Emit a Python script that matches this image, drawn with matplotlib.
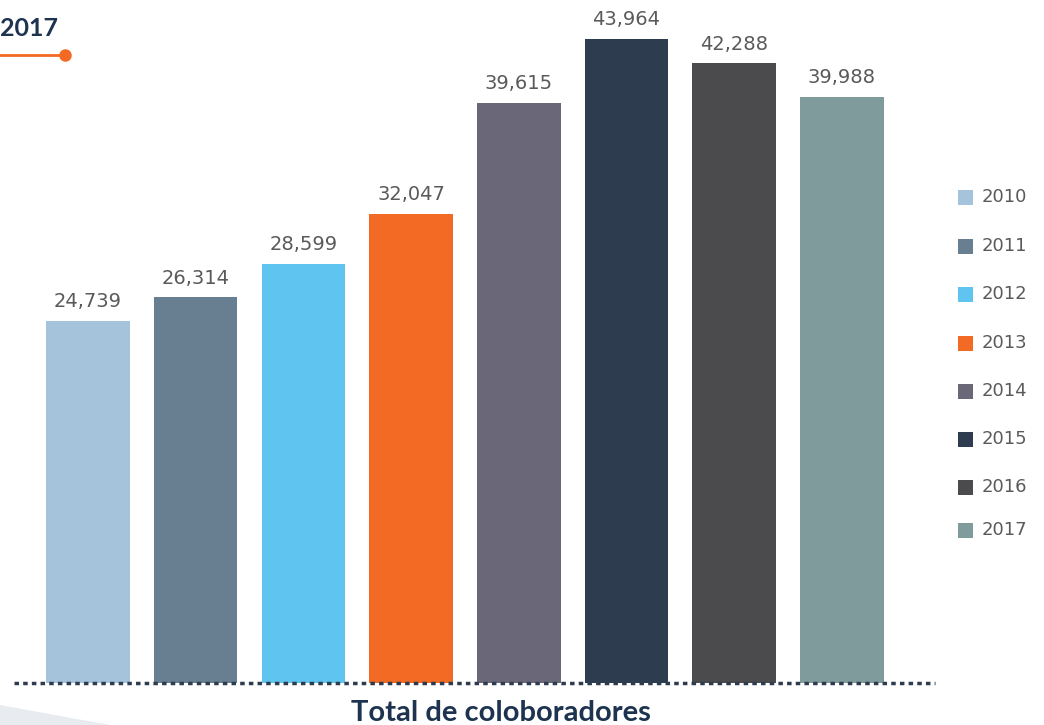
import numpy as np
import matplotlib.pyplot as plt
from matplotlib.patches import Polygon

years = ['2010', '2011', '2012', '2013', '2014', '2015', '2016', '2017']
values = [24739, 26314, 28599, 32047, 39615, 43964, 42288, 39988]
labels = ['24,739', '26,314', '28,599', '32,047', '39,615', '43,964', '42,288', '39,988']
colors = ['#a5c4dc', '#687e91', '#5fc5f0', '#f26a24',
          '#696778', '#2e3c50', '#4b4b4d', '#7f9b9c']

W, H = 1044, 725
fig = plt.figure(figsize=(W / 100., H / 100.), dpi=100)
fig.patch.set_facecolor('white')

# decoration in the lower left corner
bg = fig.add_axes([0, 0, 1, 1])
bg.set_xlim(0, W)
bg.set_ylim(H, 0)
bg.axis('off')
bg.add_patch(Polygon([[0, 705], [0, 725], [110, 725]], closed=True,
                     color='#e8ebf0', lw=0))
bg.plot([0, 65], [55, 55], color='#f26a24', lw=2)
bg.plot([65], [55], 'o', color='#f26a24', ms=8)
bg.text(0, 28, '2017', fontsize=18, fontweight='bold', color='#1e3350',
        family='Lato', va='center', ha='left')
bg.text(501, 713, 'Total de coloboradores', fontsize=21, fontweight='bold',
        color='#1e3350', family='Lato', va='center', ha='center')

# bars
left, right, base = 14., 935., 683.
step = 107.7
c0 = 88.
sub = fig.add_axes([left / W, (H - base) / H, (right - left) / W, base / H])
sub.set_xlim((left - c0) / step, (right - c0) / step)
sub.set_ylim(0, base / 0.01465)
sub.axis('off')

x = np.arange(len(values))
sub.bar(x, values, width=0.775, color=colors, zorder=2)
for xi, v, lab in zip(x, values, labels):
    sub.annotate(lab, (xi, v), xytext=(0, 7), textcoords='offset points',
                 ha='center', va='bottom', fontsize=14, color='#5a5a5a',
                 family='DejaVu Sans')
sub.axhline(0, color='#2e3c50', lw=2.5, ls=(0, (1.3, 1.2)), zorder=3,
            clip_on=False)

# legend
leg_y = [197, 246, 294, 343, 391, 439, 487, 530]
for yy, yr, c in zip(leg_y, years, colors):
    bg.add_patch(plt.Rectangle((958, yy - 7.5), 15, 15, color=c, lw=0))
    bg.text(982, yy, yr, fontsize=13, color='#5a5a5a', family='DejaVu Sans',
            va='center', ha='left')

fig.savefig('out.png', dpi=100)
plt.close()
